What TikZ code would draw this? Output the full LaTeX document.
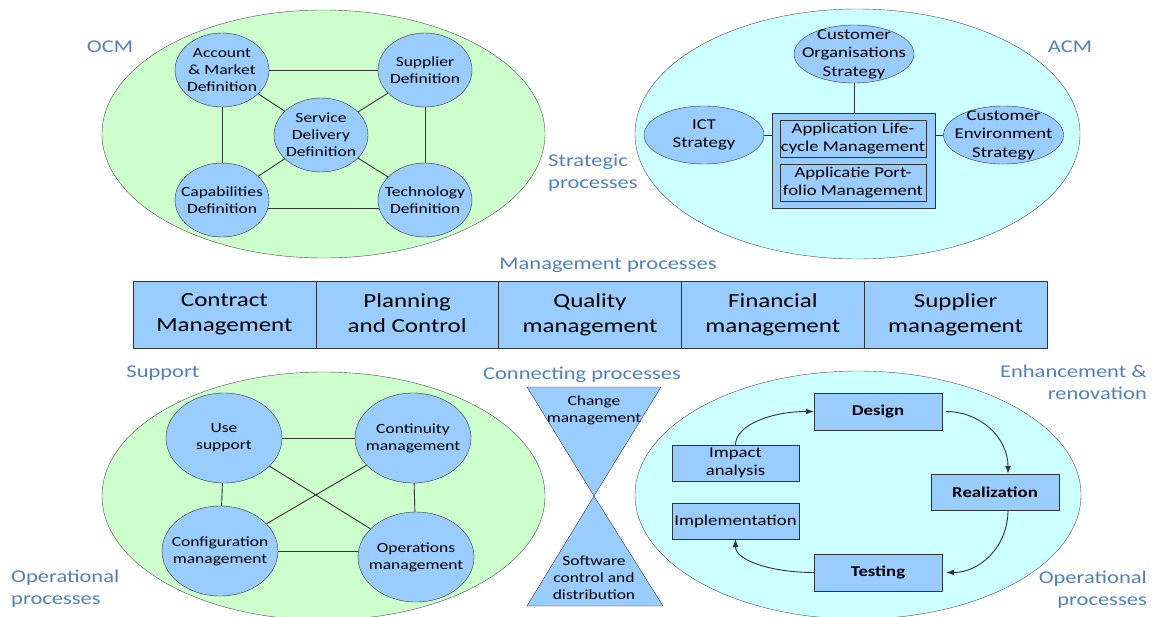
\documentclass[tikz,border=0pt]{standalone}
\usepackage{xcolor}
\usepackage{fontspec}
\setmainfont{Carlito}[FakeStretch=1.25]
\usepackage{tikz}
\usetikzlibrary{shapes.geometric,arrows.meta}

\definecolor{ocmgreen}{HTML}{CCFFCC}
\definecolor{acmcyan}{HTML}{CCFFFF}
\definecolor{procblue}{HTML}{99CCFF}
\definecolor{labelblue}{HTML}{4F81BD}

\newcommand{\circfont}{\fontsize{14}{17}\selectfont}
\newcommand{\stratfont}{\fontsize{15}{18.5}\selectfont}
\newcommand{\barfont}{\fontsize{20}{25}\selectfont}
\newcommand{\grpfont}{\fontsize{18}{22}\selectfont}

\begin{document}
\begin{tikzpicture}[x=1pt,y=-1pt,>={Latex[length=8pt,width=6pt]},
	region/.style={ellipse,draw=black!70,inner sep=0pt,minimum width=443,minimum height=248},
	proc/.style={ellipse,draw=black!80,fill=procblue,inner sep=0pt,minimum width=94,minimum height=74},
	supp/.style={proc,minimum width=116,minimum height=90},
	strat/.style={proc,minimum width=120,minimum height=58},
	appbox/.style={rectangle,draw=black!80,fill=procblue,inner sep=0pt,minimum width=146,minimum height=37,align=center,font=\stratfont},
	cell/.style={rectangle,draw=black!80,fill=procblue,inner sep=0pt,minimum width=182.8,minimum height=67,align=center,font=\barfont,text depth=3pt},
	phase/.style={rectangle,draw=black!80,fill=procblue,inner sep=0pt,minimum width=128,minimum height=37,align=center,font=\stratfont},
	grouplabel/.style={text=labelblue,align=center,font=\grpfont,inner sep=0pt},
	link/.style={draw=black!80,line width=0.9pt},
	every label/.style={align=center,font=\circfont,inner sep=0pt}]
	\useasboundingbox (0,0) rectangle (1155,616);

	% strategic processes
	\path (323.5,134) node[region,fill=ocmgreen] (ocm) {};
	\path (857.5,134) node[region,fill=acmcyan,minimum width=445,minimum height=250] (acm) {};
	\path (110,47) node[grouplabel] (ocmlbl) {OCM};
	\path (1070,47) node[grouplabel] (acmlbl) {ACM};
	\path (548,172.5) node[grouplabel,anchor=west,align=left] (strlbl) {Strategic\\processes};

	\path (222,70) node[proc,label={center:{Account\\\& Market\\Definition}}] (acct) {};
	\path (425,70) node[proc,label={center:{Supplier\\Definition}}] (supl) {};
	\path (321,135) node[proc,label={center:{Service\\Delivery\\Definition}}] (serv) {};
	\path (222,200) node[proc,label={center:{Capabilities\\Definition}}] (capa) {};
	\path (425,200) node[proc,label={center:{Technology\\Definition}}] (tech) {};
	\draw[link] (acct) -- (supl);
	\draw[link] (acct) -- (capa);
	\draw[link] (supl) -- (tech);
	\draw[link] (capa.350) -- (tech.190);
	\draw[link] (acct) -- (serv);
	\draw[link] (supl) -- (serv);
	\draw[link] (capa) -- (serv);
	\draw[link] (tech) -- (serv);

	\path (854,54) node[strat,label={[font=\stratfont]center:{Customer\\Organisations\\Strategy}}] (cos) {};
	\path (704,135) node[strat,label={[font=\stratfont]center:{ICT\\Strategy}}] (ict) {};
	\path (1003.5,135) node[strat,label={[font=\stratfont]center:{Customer\\Environment\\Strategy}}] (ces) {};
	\path (853.5,160.5) node[appbox,minimum width=163,minimum height=95] (appl) {};
	\path (853,138.5) node[appbox] (alm) {Application Life-\\cycle Management};
	\path (853,182.5) node[appbox] (apm) {Applicatie Port-\\folio Management};
	\draw[link] (cos.south) -- (cos.south |- appl.north);
	\draw[link] (ict) -- (ict -| appl.west);
	\draw[link] (ces) -- (ces -| appl.east);

	% management processes
	\path (608,265) node[grouplabel] (mgtlbl) {Management processes};
	\path (224.4,314.5) node[cell] (cmgt) {Contract\\Management};
	\path (407.2,314.5) node[cell] (plan) {Planning\\and Control};
	\path (590,314.5) node[cell] (qual) {Quality\\management};
	\path (772.8,314.5) node[cell] (fina) {Financial\\management};
	\path (955.6,314.5) node[cell] (smgt) {Supplier\\management};

	% operational processes
	\path (323.5,496) node[region,fill=ocmgreen] (sup) {};
	\path (858,495) node[region,fill=acmcyan,minimum width=446] (enh) {};
	\path (163,373) node[grouplabel] (suplbl) {Support};
	\path (582,375) node[grouplabel] (conlbl) {Connecting processes};
	\path (1147,382.5) node[grouplabel,anchor=east,align=right] (enhlbl) {Enhancement \&\\renovation};
	\path (11,589) node[grouplabel,anchor=west,align=left] (oplbl) {Operational\\processes};
	\path (1147,590) node[grouplabel,anchor=east,align=right] (oprlbl) {Operational\\processes};

	\path (224,438) node[supp,label={center:{Use\\support}}] (use) {};
	\path (413,438) node[supp,label={center:{Continuity\\management}}] (cont) {};
	\path (220,551) node[supp,label={center:{Configuration\\management}}] (conf) {};
	\path (416,557) node[supp,label={center:{Operations\\management}}] (oper) {};
	\draw[link] (use) -- (cont);
	\draw[link] (use) -- (conf);
	\draw[link] (cont) -- (oper);
	\draw[link] (conf.east) -- (conf.east -| oper.west);
	\draw[link] (use) -- (oper);
	\draw[link] (cont) -- (conf);

	\draw[fill=procblue,draw=black!80] (527,387) -- (661,387) -- (594,496) -- cycle;
	\draw[fill=procblue,draw=black!80] (594,496) -- (663,606) -- (527,606) -- cycle;
	\path (594,410.5) node[font=\circfont,align=center] (chg) {Change\\management};
	\path (594,578) node[font=\circfont,align=center] (swcd) {Software\\control and\\distribution};

	\path (878,411.5) node[phase,font=\stratfont\bfseries] (des) {Design};
	\path (735.5,463) node[phase,minimum width=127,minimum height=36] (imp) {Impact\\analysis};
	\path (995,492) node[phase,minimum height=36,font=\stratfont\bfseries] (real) {Realization};
	\path (735.5,521) node[phase,minimum width=127,minimum height=36] (impl) {Implementation};
	\path (878,572.5) node[phase,font=\stratfont\bfseries] (tst) {Testing};
	\draw[link,->] (imp.north) .. controls +(0,-20) and +(-42,0) .. (des.west);
	\draw[link,->] ([xshift=4]des.east) .. controls +(34,0) and +(0,-36) .. ([xshift=13]real.north);
	\draw[link,->] ([xshift=13]real.south) .. controls +(0,36) and +(34,0) .. ([xshift=4]tst.east);
	\draw[link,->] (tst.west) .. controls +(-43,0) and +(0,21) .. (impl.south);
\end{tikzpicture}
\end{document}
